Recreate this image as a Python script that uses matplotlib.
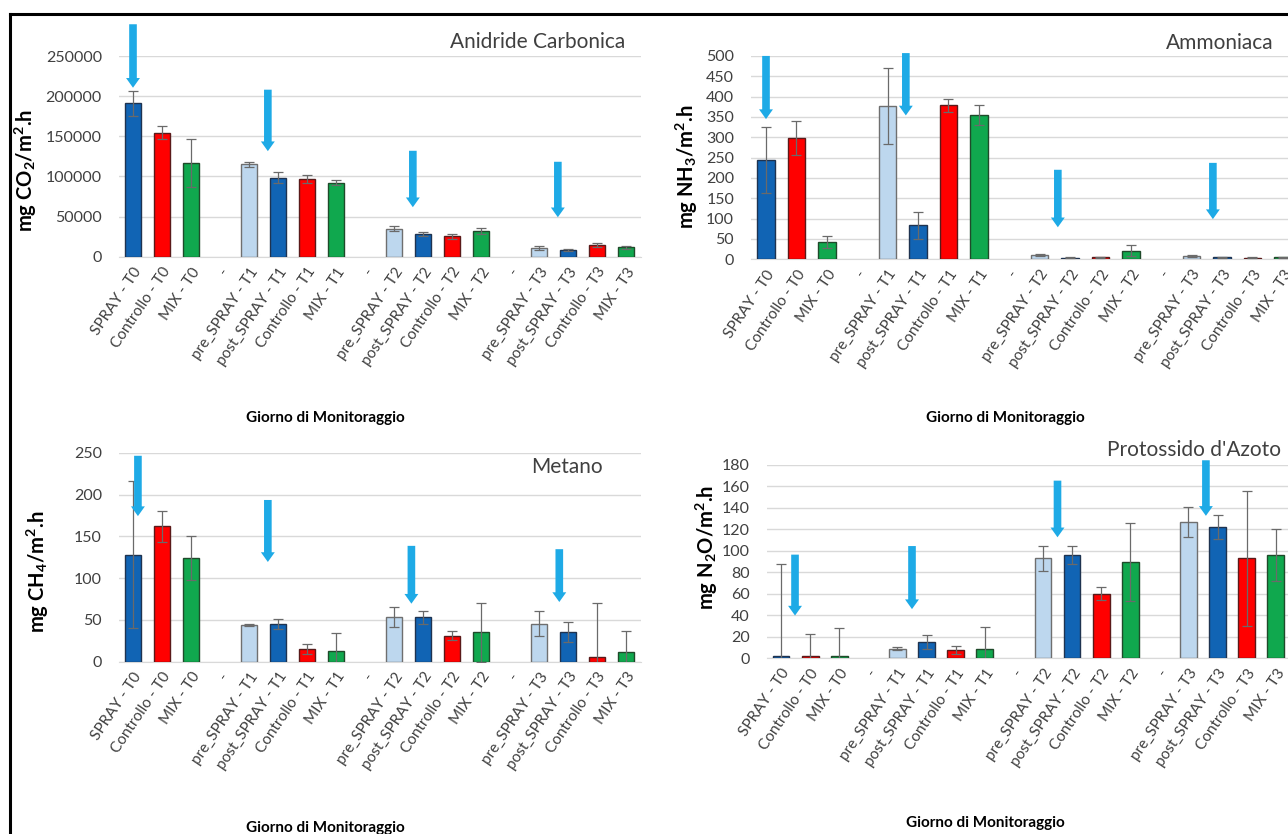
import numpy as np
import matplotlib
matplotlib.use("Agg")
import matplotlib.pyplot as plt
from matplotlib.patches import FancyArrowPatch
from matplotlib.lines import Line2D

plt.rcParams['font.family'] = ['Lato', 'DejaVu Sans']
plt.rcParams['mathtext.fontset'] = 'custom'
plt.rcParams['mathtext.rm'] = 'Lato:bold'
plt.rcParams['mathtext.bf'] = 'Lato:bold'

nan = np.nan

categories = ['SPRAY - T0', 'Controllo - T0', 'MIX - T0', '-',
              'pre_SPRAY - T1', 'post_SPRAY - T1', 'Controllo - T1', 'MIX - T1', '-',
              'pre_SPRAY - T2', 'post_SPRAY - T2', 'Controllo - T2', 'MIX - T2', '-',
              'pre_SPRAY - T3', 'post_SPRAY - T3', 'Controllo - T3', 'MIX - T3']
kinds = ['spray', 'ctrl', 'mix', None,
         'pre', 'spray', 'ctrl', 'mix', None,
         'pre', 'spray', 'ctrl', 'mix', None,
         'pre', 'spray', 'ctrl', 'mix']

co2 = [191000, 154500, 117000, nan, 115000, 98500, 97000, 92000, nan,
       35000, 28000, 25500, 31700, nan, 11200, 8700, 14200, 11700]
co2_err = [16000, 8500, 30000, nan, 3500, 6500, 5000, 3000, nan,
           3000, 2500, 3000, 3500, nan, 2500, 1000, 2500, 2000]

nh3 = [244, 298, 42, nan, 377, 84, 379, 355, nan,
       10, 4, 5, 21, nan, 8, 5, 4, 5]
nh3_err = [82, 42, 15, nan, 93, 33, 16, 25, nan,
           2.5, 1, 1.5, 13, nan, 2, 1, 1, 1]

ch4 = [128, 162, 124, nan, 44, 45, 15, 13, nan,
       53, 53, 31, 35, nan, 45.5, 35, 5, 11]
ch4_err = [88, 19, 26, nan, 1, 6, 5.5, 21.5, nan,
           12, 8, 5, 35, nan, 14.5, 12, 65, 25]

n2o = [2, 2, 2, nan, 8.5, 15, 7.5, 8, nan,
       93, 96, 60, 89.5, nan, 127, 122, 93, 96]
n2o_err = [86, 20, 26, nan, 1.5, 6.5, 4, 21, nan,
           11.5, 8, 6, 36, nan, 14, 11, 63, 24]

# arrows: x position (category index), tail value, tip value
co2_arrows = ([0, 4.65, 9.65, 14.65], [293000, 211500, 135400, 121700], [207000, 128000, 58200, 45700])
nh3_arrows = ([0, 4.6, 9.6, 14.7], [507, 514, 227, 244], [338, 347, 72, 92])
ch4_arrows = ([0.17, 4.65, 9.6, 14.7], [250, 197, 142, 138], [171, 116, 66, 68])
n2o_arrows = ([0.48, 4.5, 9.5, 14.6], [99, 107, 168, 187], [37, 43, 110, 130])

colors = {'spray': '#1164B4', 'ctrl': '#FF0000', 'mix': '#10A84E', 'pre': '#BDD7EE'}
edges = {'spray': '#1F3350', 'ctrl': '#5a1a1a', 'mix': '#1f4a2a', 'pre': '#6f6f6f'}
arrow_color = '#1EAAE6'

W, H = 1288, 834
fig = plt.figure(figsize=(W / 100, H / 100), dpi=100)


def rect(left, right, top, bottom):
    return [left / W, 1 - bottom / H, (right - left) / W, (bottom - top) / H]


def panel(r, vals, errs, yticks, ylabel, title, title_xy, title_ha, arrows, ylab_xy, xlab_xy):
    ax = fig.add_axes(rect(*r))
    x = np.arange(len(categories))
    for i, (v, e, k) in enumerate(zip(vals, errs, kinds)):
        if k is None or np.isnan(v):
            continue
        ax.bar(i, v, width=0.58, color=colors[k], edgecolor=edges[k], linewidth=1.0, zorder=3)
        ax.errorbar(i, v, yerr=e, ecolor='#6a6a6a', elinewidth=0.9, capsize=3.5,
                    capthick=0.9, fmt='none', zorder=4)
    ax.set_xlim(-0.5, len(categories) - 0.5)
    ax.set_ylim(yticks[0], yticks[-1])
    ax.set_yticks(yticks)
    ax.set_yticklabels([str(t) for t in yticks], fontsize=11.5, color='#404040')
    ax.tick_params(axis='y', length=0, pad=12)
    ax.set_xticks(x)
    ax.set_xticklabels(categories, rotation=56, ha='right', rotation_mode='anchor',
                       fontsize=11, color='#404040')
    ax.tick_params(axis='x', length=0, pad=6)
    ax.grid(axis='y', color='#D9D9D9', linewidth=1.0, zorder=0)
    for s in ['top', 'right', 'left']:
        ax.spines[s].set_visible(False)
    ax.spines['bottom'].set_color('#D9D9D9')
    ax.set_axisbelow(True)
    for xa, ya, yb in zip(*arrows):
        p = FancyArrowPatch((xa, ya), (xa, yb), arrowstyle='simple,head_length=7,head_width=10,tail_width=5.5',
                            mutation_scale=1, color=arrow_color, linewidth=0, clip_on=False, zorder=6)
        ax.add_patch(p)
    fig.text(title_xy[0] / W, 1 - title_xy[1] / H, title, fontsize=15, color='#404040',
             ha=title_ha, va='center')
    fig.text(ylab_xy[0] / W, 1 - ylab_xy[1] / H, ylabel, fontsize=14.5, fontweight='bold',
             rotation=90, ha='center', va='center', color='#000000')
    fig.text(xlab_xy[0] / W, 1 - xlab_xy[1] / H, 'Giorno di Monitoraggio', fontsize=11,
             fontweight='bold', ha='center', va='center', color='#000000')
    return ax


panel((118.5, 640.5, 56, 256.7), co2, co2_err, [0, 50000, 100000, 150000, 200000, 250000],
      r'mg CO$_2$/m$^2$.h', 'Anidride Carbonica', (538, 42), 'center', co2_arrows, (26, 170), (325, 418))
panel((750.8, 1298, 56, 259.3), nh3, nh3_err, list(range(0, 501, 50)),
      r'mg NH$_3$/m$^2$.h', 'Ammoniaca', (1220, 43), 'center', nh3_arrows, (687, 167), (1005, 418))
panel((118.5, 640.5, 453, 661.5), ch4, ch4_err, [0, 50, 100, 150, 200, 250],
      r'mg CH$_4$/m$^2$.h', 'Metano', (567, 467), 'center', ch4_arrows, (38, 572), (325, 828))
panel((766.5, 1290.3, 465, 658), n2o, n2o_err, list(range(0, 181, 20)),
      r'mg N$_2$O/m$^2$.h', "Protossido d'Azoto", (1107, 450), 'left', n2o_arrows, (707, 547), (985, 823))

# outer frame (top and left edges visible)
fig.add_artist(Line2D([10 / W, 10 / W], [0, 1 - 14 / H], color='black', linewidth=2.2))
fig.add_artist(Line2D([10 / W, 1], [1 - 14 / H, 1 - 14 / H], color='black', linewidth=2.2))

fig.savefig('out.png', dpi=100)
